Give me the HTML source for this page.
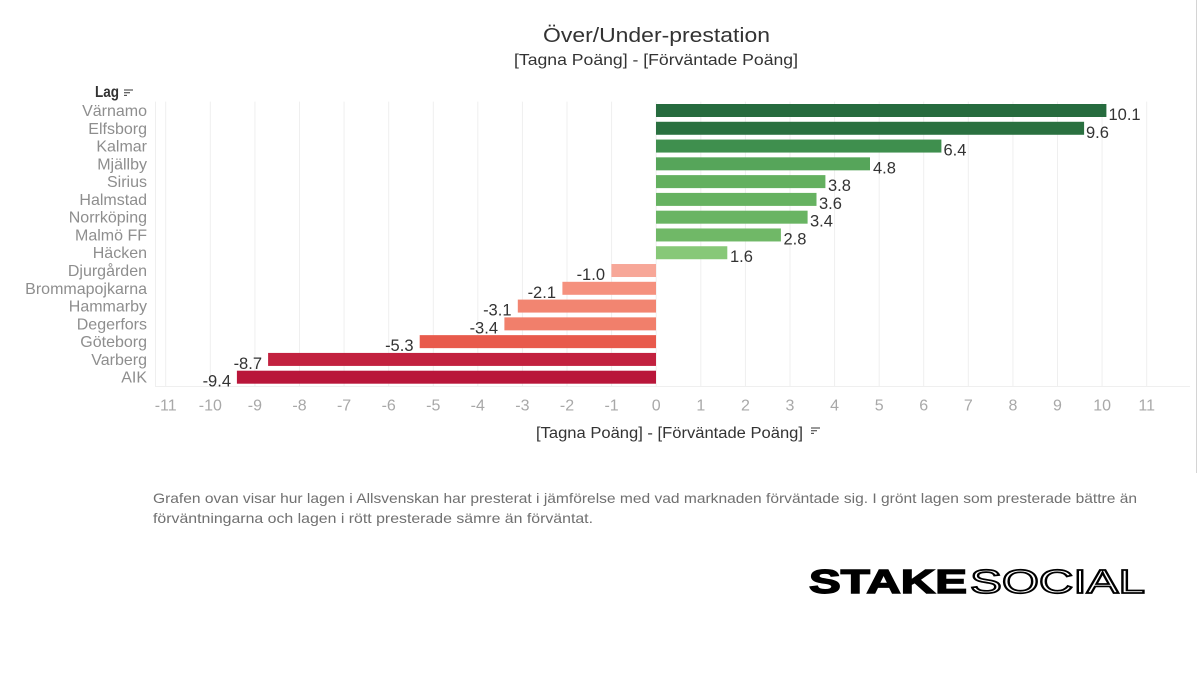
<!DOCTYPE html>
<html><head><meta charset="utf-8"><style>
html,body{margin:0;padding:0;background:#fff;}
svg{display:block;font-family:"Liberation Sans",sans-serif;}
</style></head><body>
<svg width="1200" height="700" viewBox="0 0 1200 700" xmlns="http://www.w3.org/2000/svg">
<rect width="1200" height="700" fill="#fff"/>
<line x1="1196.5" y1="0" x2="1196.5" y2="473" stroke="#d4d4d4" stroke-width="1"/>
<text x="543" y="42" font-size="20" fill="#333" textLength="227" lengthAdjust="spacingAndGlyphs">Över/Under-prestation</text>
<text x="514" y="65" font-size="16" fill="#333" textLength="284" lengthAdjust="spacingAndGlyphs">[Tagna Poäng] - [Förväntade Poäng]</text>
<text x="95" y="97" font-size="16" font-weight="bold" fill="#333" textLength="24" lengthAdjust="spacingAndGlyphs">Lag</text>
<g stroke="#555" stroke-width="1.2"><line x1="124" y1="90" x2="133" y2="90"/><line x1="124" y1="92.7" x2="130" y2="92.7"/><line x1="124" y1="95.4" x2="127" y2="95.4"/></g>
<g stroke="#efefef" stroke-width="1">
<line x1="165.7" y1="101.6" x2="165.7" y2="386"/><line x1="210.3" y1="101.6" x2="210.3" y2="386"/><line x1="254.9" y1="101.6" x2="254.9" y2="386"/><line x1="299.5" y1="101.6" x2="299.5" y2="386"/><line x1="344.1" y1="101.6" x2="344.1" y2="386"/><line x1="388.7" y1="101.6" x2="388.7" y2="386"/><line x1="433.3" y1="101.6" x2="433.3" y2="386"/><line x1="477.8" y1="101.6" x2="477.8" y2="386"/><line x1="522.4" y1="101.6" x2="522.4" y2="386"/><line x1="567" y1="101.6" x2="567" y2="386"/><line x1="611.6" y1="101.6" x2="611.6" y2="386"/><line x1="656.2" y1="101.6" x2="656.2" y2="386"/><line x1="700.8" y1="101.6" x2="700.8" y2="386"/><line x1="745.4" y1="101.6" x2="745.4" y2="386"/><line x1="790" y1="101.6" x2="790" y2="386"/><line x1="834.6" y1="101.6" x2="834.6" y2="386"/><line x1="879.2" y1="101.6" x2="879.2" y2="386"/><line x1="923.7" y1="101.6" x2="923.7" y2="386"/><line x1="968.3" y1="101.6" x2="968.3" y2="386"/><line x1="1012.9" y1="101.6" x2="1012.9" y2="386"/><line x1="1057.5" y1="101.6" x2="1057.5" y2="386"/><line x1="1102.1" y1="101.6" x2="1102.1" y2="386"/><line x1="1146.7" y1="101.6" x2="1146.7" y2="386"/>
<line x1="155" y1="386.5" x2="1190" y2="386.5"/>
<line x1="155.5" y1="101.6" x2="155.5" y2="386"/>
</g>
<g>
<rect x="656" y="104" width="450.4" height="13" fill="#266b3e"/>
<rect x="656" y="121.78" width="428.1" height="13" fill="#2a7040"/>
<rect x="656" y="139.56" width="285.4" height="13" fill="#3f8f4e"/>
<rect x="656" y="157.34" width="214" height="13" fill="#56a55a"/>
<rect x="656" y="175.12" width="169.4" height="13" fill="#63b05f"/>
<rect x="656" y="192.9" width="160.5" height="13" fill="#66b261"/>
<rect x="656" y="210.68" width="151.6" height="13" fill="#69b463"/>
<rect x="656" y="228.46" width="124.9" height="13" fill="#70b867"/>
<rect x="656" y="246.24" width="71.3" height="13" fill="#87c878"/>
<rect x="611.4" y="264.02" width="44.6" height="13" fill="#f7a798"/>
<rect x="562.4" y="281.8" width="93.6" height="13" fill="#f5917e"/>
<rect x="517.8" y="299.58" width="138.2" height="13" fill="#f28571"/>
<rect x="504.4" y="317.36" width="151.6" height="13" fill="#f17f6b"/>
<rect x="419.7" y="335.14" width="236.3" height="13" fill="#e85a4c"/>
<rect x="268.1" y="352.92" width="387.9" height="13" fill="#c2213f"/>
<rect x="236.9" y="370.7" width="419.1" height="13" fill="#b9163a"/>
</g>
<g font-size="16" fill="#8e8e8e" text-anchor="end">
<text x="147" y="116">Värnamo</text>
<text x="147" y="133.8">Elfsborg</text>
<text x="147" y="151.6">Kalmar</text>
<text x="147" y="169.3">Mjällby</text>
<text x="147" y="187.1">Sirius</text>
<text x="147" y="204.9">Halmstad</text>
<text x="147" y="222.7">Norrköping</text>
<text x="147" y="240.5">Malmö FF</text>
<text x="147" y="258.2">Häcken</text>
<text x="147" y="276">Djurgården</text>
<text x="147" y="293.8">Brommapojkarna</text>
<text x="147" y="311.6">Hammarby</text>
<text x="147" y="329.4">Degerfors</text>
<text x="147" y="347.1">Göteborg</text>
<text x="147" y="364.9">Varberg</text>
<text x="147" y="382.7">AIK</text>
</g>
<g font-size="16.5" fill="#333">
<text x="1108.5" y="120">10.1</text>
<text x="1086" y="137.8">9.6</text>
<text x="943.5" y="155.6">6.4</text>
<text x="873" y="173.3">4.8</text>
<text x="828" y="191.1">3.8</text>
<text x="819" y="208.9">3.6</text>
<text x="810" y="226.7">3.4</text>
<text x="783.5" y="244.5">2.8</text>
<text x="730" y="262.2">1.6</text>
</g>
<g font-size="16.5" fill="#333" text-anchor="end">
<text x="605" y="280">-1.0</text>
<text x="556" y="297.8">-2.1</text>
<text x="511.5" y="315.6">-3.1</text>
<text x="498" y="333.4">-3.4</text>
<text x="413.5" y="351.1">-5.3</text>
<text x="262" y="368.9">-8.7</text>
<text x="231" y="386.7">-9.4</text>
</g>
<g font-size="16" fill="#a8a8a8" text-anchor="middle">
<text x="165.7" y="410.5">-11</text><text x="210.3" y="410.5">-10</text><text x="254.9" y="410.5">-9</text><text x="299.5" y="410.5">-8</text><text x="344.1" y="410.5">-7</text><text x="388.7" y="410.5">-6</text><text x="433.3" y="410.5">-5</text><text x="477.8" y="410.5">-4</text><text x="522.4" y="410.5">-3</text><text x="567" y="410.5">-2</text><text x="611.6" y="410.5">-1</text><text x="656.2" y="410.5">0</text><text x="700.8" y="410.5">1</text><text x="745.4" y="410.5">2</text><text x="790" y="410.5">3</text><text x="834.6" y="410.5">4</text><text x="879.2" y="410.5">5</text><text x="923.7" y="410.5">6</text><text x="968.3" y="410.5">7</text><text x="1012.9" y="410.5">8</text><text x="1057.5" y="410.5">9</text><text x="1102.1" y="410.5">10</text><text x="1146.7" y="410.5">11</text>
</g>
<text x="536" y="438" font-size="15.5" fill="#333" textLength="267" lengthAdjust="spacingAndGlyphs">[Tagna Poäng] - [Förväntade Poäng]</text>
<g stroke="#555" stroke-width="1.2"><line x1="811" y1="428" x2="820" y2="428"/><line x1="811" y1="430.7" x2="817" y2="430.7"/><line x1="811" y1="433.4" x2="814" y2="433.4"/></g>
<text x="153" y="503" font-size="14" fill="#707070" textLength="984" lengthAdjust="spacingAndGlyphs">Grafen ovan visar hur lagen i Allsvenskan har presterat i jämförelse med vad marknaden förväntade sig. I grönt lagen som presterade bättre än</text>
<text x="153" y="523" font-size="14" fill="#707070" textLength="440" lengthAdjust="spacingAndGlyphs">förväntningarna och lagen i rött presterade sämre än förväntat.</text>
<text x="809" y="593" font-size="33" font-weight="bold" fill="#000" textLength="158" lengthAdjust="spacingAndGlyphs" stroke="#000" stroke-width="1.4">STAKE</text>
<text x="970" y="593" font-size="33" fill="#fff" stroke="#000" stroke-width="1.7" textLength="175" lengthAdjust="spacingAndGlyphs">SOCIAL</text>
</svg>
</body></html>
